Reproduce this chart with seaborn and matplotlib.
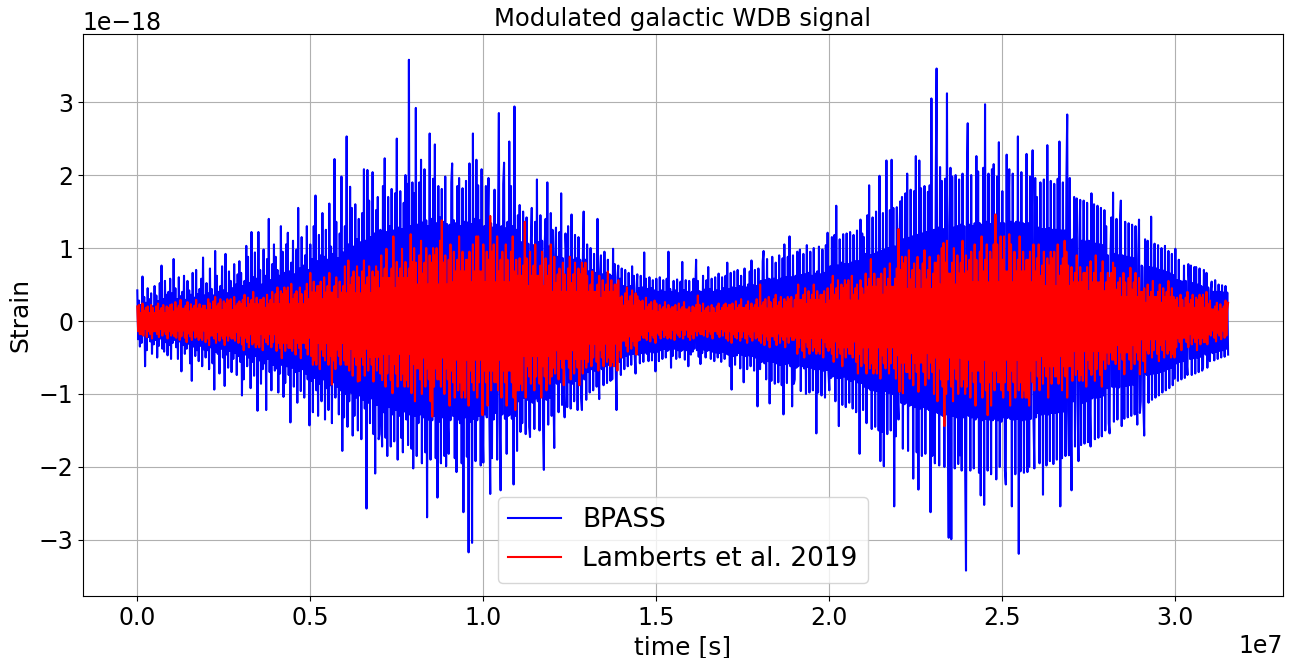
import numpy as np
import pandas as pd
import matplotlib
matplotlib.use("Agg")
import matplotlib.pyplot as plt
import seaborn as sns

bpass_strain = [
    0.42, -0.25, 0.28, -0.35, 0.22, -0.30, 0.61, -0.18, 0.33, -0.62, 0.25, -0.40, 0.45, -0.22, 0.30, -0.28, 0.38, -0.45, 0.20, -0.32, 0.48, -0.26, 0.35, -0.50, 0.27, -0.34, 0.52, -0.24, 0.76, -0.38, 0.30, -0.42, 0.55, -0.29, 0.36, -0.47, 0.40, -0.33, 0.58, -0.52,
    0.38, -0.30, 0.85, -0.26, 0.45, -0.36, 0.30, -0.52, 0.60, -0.28, 0.34, -0.69, 0.40, -0.33, 0.62, -0.45, 0.29, -0.38, 0.55, -0.31, 0.42, -0.58, 0.36, -0.82, 0.66, -0.35, 0.32, -0.48, 0.70, -0.40, 0.37, -0.55, 0.44, -0.34, 0.58, -0.62, 0.87, -0.39, 0.35, -0.50,
    0.52, -0.40, 0.38, -0.66, 0.72, -0.36, 0.44, -0.58, 0.35, -0.94, 0.96, -0.42, 0.62, -0.45, 0.40, -0.72, 0.48, -0.38, 0.75, -0.50, 0.42, -0.89, 0.92, -0.46, 0.38, -0.64, 0.68, -0.41, 0.55, -0.70, 0.45, -0.52, 0.78, -0.44, 0.50, -0.74, 0.64, -0.48, 0.82, -0.56,
    0.66, -1.02, 0.48, -0.80, 0.55, -0.46, 1.03, -0.62, 0.88, -0.50, 0.52, -0.92, 1.22, -0.56, 0.60, -0.75, 0.94, -0.48, 0.58, -1.23, 1.22, -0.54, 0.70, -0.86, 0.50, -0.66, 0.98, -0.58, 0.62, -1.22, 0.85, -0.52, 1.40, -0.70, 0.56, -0.95, 0.78, -0.60, 1.05, -0.68,
    0.88, -0.65, 0.70, -0.98, 0.62, -0.72, 1.30, -0.60, 0.95, -1.04, 0.66, -0.85, 1.05, -0.62, 1.21, -0.74, 0.68, -1.39, 0.80, -0.64, 1.10, -0.90, 0.64, -0.70, 0.98, -1.12, 1.55, -0.68, 0.72, -0.96, 1.15, -0.66, 0.76, -1.05, 0.90, -0.72, 1.30, -0.80, 0.70, -1.43,
    1.05, -0.82, 0.85, -1.25, 1.30, -0.78, 1.72, -0.95, 0.82, -1.30, 1.18, -0.86, 0.90, -1.10, 1.48, -0.80, 0.88, -1.35, 1.25, -0.92, 0.84, -1.22, 1.61, -0.88, 1.02, -1.40, 0.92, -0.84, 2.22, -1.05, 1.36, -0.90, 0.86, -1.28, 1.20, -0.95, 1.98, -1.78, 0.94, -1.32,
    1.30, -1.00, 2.53, -1.45, 1.05, -1.10, 1.84, -0.98, 1.55, -1.57, 1.02, -1.30, 1.60, -1.05, 1.12, -1.50, 1.40, -1.02, 1.08, -1.62, 1.48, -1.08, 2.08, -1.20, 1.10, -2.57, 2.07, -1.12, 1.65, -1.40, 1.15, -1.06, 2.04, -1.55, 1.20, -2.09, 1.52, -1.15, 1.70, -1.62,
    -1.55, 1.25, -1.20, -1.72, 1.85, -1.25, 2.23, -1.60, 1.22, -1.85, 1.70, -1.18, 1.30, -1.72, 1.81, -1.28, 1.24, -1.65, 1.75, -1.22, 2.50, -1.90, 1.28, -1.30, 1.78, -1.60, 1.26, -1.80, 1.62, -1.24, 2.00, -1.35, 1.88, -1.70, 3.58, -1.28, 1.30, -1.75, 1.90, -2.02,
    1.75, -1.30, 2.92, -1.85, 1.32, -1.40, 1.90, -1.28, 2.21, -1.95, 1.35, -1.32, 2.08, -1.80, 1.38, -2.69, 1.30, -1.35, 2.57, -1.90, 1.40, -1.36, 1.95, -1.30, 2.42, -1.88, 1.34, -2.42, 1.85, -1.38, 1.42, -1.95, 1.81, -1.32, 1.36, -1.85, 1.98, -1.99, 1.33, -1.40,
    -1.82, 1.32, -1.36, 1.90, 2.16, -1.30, 1.38, -1.88, 1.34, -2.07, 1.85, -1.35, 1.96, -1.40, 1.30, -1.95, 1.82, -2.62, 1.36, -1.32, 1.92, -1.86, 1.35, -3.17, 2.16, -1.38, 1.33, -3.04, 2.57, -1.34, 1.40, -1.92, 2.21, -1.36, 1.86, -1.30, 1.38, -1.98, 2.08, -1.35,
    -1.94, 1.30, -1.28, 1.85, -1.32, 1.26, 1.96, -1.30, -2.37, 1.34, -1.88, 1.28, -1.35, 1.80, -1.26, 1.32, -1.90, 1.30, 2.85, -1.36, -2.32, 1.30, -1.28, 1.88, 2.17, -1.34, 1.27, -1.82, 1.36, -1.30, 2.46, -1.28, 1.85, -1.34, 1.30, -2.24, 2.94, -1.30, 1.25, -1.78,
    1.45, -1.10, 1.59, -1.52, 1.08, -1.40, 1.50, -1.05, 1.12, -1.55, 1.42, -1.08, 1.06, -1.45, -1.59, 1.10, 1.55, -1.12, 1.04, -1.48, 1.36, -1.06, 1.94, -1.10, 1.08, -1.50, 1.45, -1.04, 1.10, -1.38, -2.04, 1.06, 1.40, -1.08, 1.90, -1.42, 1.02, -1.05, 1.48, -1.30,
    1.25, -0.88, -1.74, 0.90, 1.28, -0.86, 0.88, -1.25, 1.22, -0.84, 1.75, -1.15, 0.86, -0.90, -1.32, 1.20, 0.85, -1.18, 1.30, -0.84, 0.88, -1.20, 1.46, -0.86, 0.84, -1.10, 1.18, -0.82, 0.86, -1.22, 1.15, -0.80, 0.84, -1.05, -1.22, 0.82, 1.50, -0.80, 0.84, -1.08,
    1.05, -0.70, 0.68, -0.98, 1.00, -0.66, 0.70, -0.95, 0.92, -0.68, 0.66, -0.90, 1.40, -0.64, -1.07, 0.68, 0.90, -0.66, 0.64, -0.88, 0.95, -0.62, 0.66, -0.85, 0.84, -0.60, 0.64, -0.82, 0.62, -0.80, 0.99, -0.60, 0.78, -0.58, -1.22, 0.60, 0.76, -0.56, 0.58, -0.74,
    0.72, -0.50, 0.48, -0.66, 0.70, -0.48, 0.46, -0.62, 0.66, -0.46, 0.48, -0.60, 0.75, -0.45, 0.62, -0.47, -0.72, 0.44, 0.64, -0.46, 0.45, -0.58, 0.62, -0.44, 0.46, -0.56, 0.94, -0.43, 0.58, -0.45, 0.44, -0.55, 0.60, -0.42, 0.45, -0.54, 0.56, -0.43, 0.42, -0.69,
    0.58, -0.42, 0.40, -0.55, 0.60, -0.40, 0.42, -0.52, 0.56, -0.38, 0.40, -0.50, 0.58, -0.41, 0.95, -0.39, 0.44, -0.64, 0.40, -0.48, 0.55, -0.38, 0.42, -0.52, 0.57, -0.40, 0.38, -0.50, 0.54, -0.41, 0.81, -0.39, 0.42, -0.53, 0.56, -0.40, 0.40, -0.62, 0.55, -0.42,
    -0.46, 0.40, -0.42, 0.58, -0.38, 0.42, 0.84, -0.40, 0.55, -0.49, 0.41, -0.59, 0.40, -0.44, 0.62, -0.39, 0.43, -0.50, 0.56, -0.41, 0.74, -0.40, 0.44, -0.52, 0.58, -0.42, 0.40, -0.55, 0.60, -0.43, 0.42, -0.50, 0.65, -0.44, 0.41, -0.56, 0.60, -0.42, 0.45, -0.52,
    0.62, -0.45, 0.80, -0.46, 0.44, -0.62, 0.66, -0.94, 0.46, -0.48, 0.68, -0.60, 0.45, -0.47, 0.70, -0.44, 0.48, -0.65, 0.62, -0.46, 0.47, -0.84, 0.72, -0.48, 0.46, -0.66, 0.50, -0.47, 0.68, -0.62, 0.83, -0.48, 0.49, -0.68, 0.70, -0.50, 0.48, -1.17, 0.72, -0.64,
    -0.66, 0.55, -0.56, 0.82, 0.96, -0.58, 0.56, -0.80, 0.85, -0.55, 0.58, -1.13, 0.57, -0.82, 0.88, -0.56, 0.58, -0.86, 0.80, -0.58, 0.56, -0.84, 0.90, -0.60, 0.58, -0.88, 0.86, -1.28, 1.05, -0.59, 0.60, -0.85, 0.88, -0.58, 1.16, -0.62, 0.60, -1.17, 0.90, -0.86,
    -0.80, 0.62, -0.64, 0.95, -0.62, 0.64, 0.98, -0.96, 0.63, -0.62, 0.92, -0.65, 0.64, -1.00, 1.04, -0.63, 0.66, -0.98, 0.95, -0.64, 0.62, -0.95, 1.00, -0.66, 0.65, -1.54, 0.68, -0.98, 1.02, -0.66, 0.64, -1.02, 0.98, -0.68, 0.66, -1.05, 1.04, -0.67, 1.21, -0.70,
    -0.95, 0.75, -0.78, 1.15, -0.76, 0.74, 1.18, -1.10, 1.58, -0.78, 0.76, -1.44, 1.12, -0.78, 0.80, -1.15, 1.19, -0.76, 0.78, -1.18, 1.20, -0.80, 0.78, -1.12, 1.22, -0.82, 0.80, -1.20, 1.18, -0.80, 0.82, -1.25, 1.24, -0.84, 0.82, -1.82, 1.39, -0.85, 1.20, -1.22,
    1.15, -0.90, 0.92, -1.40, 1.45, -0.92, 1.86, -0.94, 0.90, -1.48, 1.42, -0.95, 0.92, -1.45, 1.50, -0.96, 0.94, -1.50, 1.99, -1.92, 0.96, -1.52, 1.48, -1.99, 0.98, -0.96, 2.20, -1.55, 1.00, -0.98, 1.52, -1.50, 2.21, -1.00, 1.55, -2.54, 1.02, -1.58, 1.56, -1.04,
    -1.35, 1.10, 1.64, -1.12, 1.70, -1.75, 1.12, -1.14, 1.75, -1.12, 2.02, -1.78, 1.14, -1.16, 1.80, -1.15, 1.16, -2.16, 1.78, -1.18, 2.26, -1.80, 1.18, -2.31, 2.20, -1.20, 1.82, -1.85, 1.20, -1.18, 1.85, -1.82, 1.22, -1.20, 1.77, -1.22, 1.86, -2.62, 3.05, -1.85,
    -1.60, 1.25, -1.95, 1.90, 3.46, -1.26, 1.28, -1.98, 2.11, -1.28, 1.92, -1.30, 1.26, -2.00, 1.95, -1.28, 3.12, -1.30, -2.97, 1.30, 2.10, -2.99, 1.98, -1.30, 1.28, -2.02, 2.00, -1.32, 1.30, -1.96, 1.94, -1.84, 1.32, -2.05, 2.02, -1.32, 1.30, -2.00, -3.42, 1.95,
    2.71, -1.30, 1.32, -2.05, 2.00, -1.32, 1.30, -2.02, 1.34, -1.35, 2.26, -1.32, 2.05, -2.08, 1.34, -2.39, 1.32, -1.36, 2.10, -2.52, 2.97, -1.34, 1.36, -2.05, 2.02, -1.35, 1.33, -2.10, 2.08, -1.36, 2.15, -1.34, 1.35, -2.17, 1.98, -1.36, 2.45, -2.00, 1.34, -1.38,
    1.78, -1.32, 1.34, -2.05, -2.24, 2.28, -1.33, 1.35, 2.08, -1.34, 1.36, -2.54, 2.02, -1.35, 1.34, -2.10, 1.36, -1.34, 2.53, -3.19, 1.35, -2.06, 2.04, -1.36, 1.34, -2.08, 1.33, -1.35, 2.29, -2.07, 1.34, -2.00, 1.98, -1.34, 1.32, 2.34, -1.33, -2.02, 1.96, -1.32,
    1.70, -1.26, 1.28, -1.95, 1.90, -1.28, 1.26, -2.38, 1.94, -1.27, 1.26, -1.98, 2.41, -1.28, 1.27, -1.92, 1.92, -1.26, 1.25, -1.96, 1.88, -1.26, 1.25, -1.90, 1.95, -1.25, 2.46, -2.54, 1.24, -1.88, 1.90, -1.24, 1.24, -1.85, 1.86, 2.83, -1.23, -1.84, 1.96, -1.22,
    -2.32, 1.12, -1.10, 1.70, -1.72, 1.12, 1.68, -1.11, -1.92, 1.10, 1.66, -1.70, 1.10, -1.12, 1.65, -1.68, 1.09, -1.10, 1.62, -1.66, 1.10, -1.08, -1.72, 1.75, -1.06, 1.08, 1.60, -1.62, 1.06, -1.05, 1.58, -1.60, 1.05, -1.04, 1.55, -1.58, 1.04, -1.02, 1.52, -1.50,
    1.30, -0.92, 0.90, -1.40, -1.54, 0.92, 1.42, -0.90, 1.76, -1.38, 0.92, -0.90, 1.40, -1.35, 0.90, -0.91, 1.38, 1.65, -1.44, 0.90, 0.88, -1.34, 1.36, -0.89, 0.88, -1.32, 1.34, -0.88, 0.87, -1.30, 1.32, -0.87, 0.86, -1.28, 1.30, -0.86, -1.42, 0.85, 1.39, -1.26,
    -1.10, 0.76, 0.74, -1.15, -1.57, 1.12, 0.75, -0.74, 1.10, -1.12, 0.74, -0.73, 1.43, -1.08, 0.73, -0.72, 1.06, -1.05, 0.72, -0.71, 1.04, -1.02, 0.70, -0.70, 1.00, -0.98, 0.69, -0.68, 1.03, -0.95, 0.67, -0.66, 0.96, -0.92, 0.65, -0.64, 0.92, -0.88, 0.63, -0.79,
    0.99, -0.58, 0.56, -0.82, 0.84, -0.56, 0.55, -0.80, 0.54, -0.55, 0.76, -0.78, 0.55, -0.54, -0.74, 0.78, 0.53, -0.52, 0.76, -0.74, 0.52, -0.51, 0.74, -0.72, 0.74, -0.50, 0.50, -0.70, 0.72, -0.49, 0.48, -0.68, -0.64, 0.70, 0.47, -0.46, 0.66, -0.64, 0.46, -0.45,
    -0.55, 0.42, 0.54, -0.44, 0.40, -0.54, 0.56, -0.42, 0.40, -0.52, 0.50, -0.41, 0.40, -0.50, 0.49, -0.40, 0.39, -0.49, 0.48, -0.38, 0.39, -0.46,
]

lamberts_strain = [
    .20, -.14, .22, -.18, .11, -.18, .24, -.20, .14, -.11, .18, -.22, .20, -.14, .11, -.18, .22, -.24, .18, -.14, .11, -.14, .20, -.18, .24, -.22, .14, -.11, .18, -.20, .22, -.14, .11, -.18, .20, -.24, .18, -.14, .22, -.20,
    .23, -.17, .13, -.21, .26, -.23, .17, -.13, .21, -.26, .29, -.21, .17, -.13, .17, -.23, .21, -.29, .26, -.17, .13, -.21, .23, -.26, .17, -.13, .21, -.23, .29, -.21, .17, -.26, .23, -.23, .17, -.26, .21, -.13, .21, -.29,
    .15, -.24, .30, -.33, .24, -.20, .15, -.20, .27, -.24, .33, -.30, .20, -.15, .24, -.27, .30, -.20, .15, -.24, .27, -.33, .24, -.20, .30, -.27, .27, -.20, .30, -.24, .15, -.24, .33, -.27, .20, -.15, .24, -.30, .27, -.20,
    .23, -.32, .29, -.40, .36, -.23, .18, -.29, .32, -.36, .23, -.18, .29, -.32, .40, -.29, .23, -.36, .32, -.32, .23, -.36, .29, -.18, .29, -.40, .32, -.23, .18, -.29, .36, -.32, .23, -.18, .29, -.36, .40, -.29, .23, -.18,
    .37, -.41, .46, -.30, .23, -.37, .41, -.51, .37, -.30, .46, -.41, .41, -.30, .46, -.37, .23, -.37, .51, -.41, .30, -.23, .37, -.46, .41, -.30, .23, -.37, .46, -.51, .37, -.30, .23, -.30, .41, -.37, .51, -.46, .30, -.23,
    .66, -.48, .39, -.60, .54, -.54, .39, -.60, .48, -.30, .48, -.66, .54, -.39, .30, -.48, .60, -.54, .39, -.30, .48, -.60, .66, -.48, .39, -.87, .39, -.54, .48, -.66, .60, -.39, .30, -.48, .54, -.60, .39, -.30, .48, -.54,
    .75, -.60, .38, -.60, .83, -.68, .49, -.38, .60, -.75, .68, -.49, .38, -.60, .75, -.83, .60, -.82, .38, -.49, .68, -.60, .83, -.75, .49, -.38, .60, -.68, .75, -.49, .38, -.60, .68, -.83, .60, -.49, .75, -.68, .68, -.49,
    .45, -.72, .90, -.81, .59, -.45, .72, -.90, .99, -.72, .59, -.45, .59, -.81, .72, -.99, 1.16, -.59, .45, -.72, .81, -.90, .59, -.45, .72, -.81, .99, -.72, .59, -.90, .81, -.81, .59, -.90, .72, -.45, 1.19, -.99, .81, -.59,
    1.00, -1.10, .80, -.65, .50, -.65, .90, -.80, 1.10, -1.00, .65, -.50, .80, -.90, 1.00, -.65, .50, -.80, .90, -1.10, .80, -1.31, 1.00, -.90, .90, -.65, 1.00, -.80, .50, -.80, 1.10, -.90, 1.38, -.50, .80, -1.00, .90, -.65, .50, -.80,
    .84, -1.16, 1.05, -.68, .53, -.84, .95, -1.05, .68, -.53, .84, -.95, 1.16, -.84, .68, -1.05, .95, -.95, .68, -1.05, .84, -.53, .84, -1.16, .95, -.68, .53, -.84, 1.05, -.95, .68, -.53, 1.16, -1.05, 1.16, -.84, .68, -.53, .68, -1.29,
    1.05, -.68, .53, -.84, .95, -1.16, .84, -.68, 1.44, -.95, .95, -.68, 1.05, -.84, .53, -.84, 1.16, -.95, .68, -.53, .84, -1.05, .95, -.68, .53, -.84, 1.05, -1.16, .84, -.68, .53, -.68, .95, -.84, 1.16, -1.05, .68, -1.22, .84, -.95,
    .62, -.95, .86, -.86, .62, -.95, .76, -.48, 1.36, -1.05, .86, -.62, .48, -.76, .95, -.86, .62, -.48, .76, -.95, 1.05, -.76, .62, -.48, .62, -.86, .76, -1.05, .95, -.62, .48, -.76, .86, -.95, .62, -.48, .76, -.86, 1.05, -.76,
    .40, -.64, .88, -.72, .52, -.40, .64, -.80, .72, -.52, .40, -.64, .80, -.88, .64, -.52, .40, -.52, .72, -.64, .88, -.80, .52, -.40, .64, -.72, .80, -.52, .40, -.64, .72, -.88, .64, -.52, .80, -.72, .72, -.52, .80, -.64,
    .62, -.56, .40, -.31, .50, -.62, .68, -.50, .40, -.31, .40, -.56, .50, -.68, .62, -.40, .31, -.50, .56, -.62, .40, -.31, .50, -.56, .68, -.50, .40, -.62, .56, -.56, .40, -.62, .50, -.31, .50, -.68, .56, -.40, .31, -.50,
    .34, -.27, .21, -.27, .38, -.34, .46, -.42, .27, -.21, .34, -.38, .42, -.27, .21, -.34, .38, -.46, .34, -.27, .28, -.26, .26, -.19, .28, -.23, .14, -.23, .32, -.26, .19, -.14, .23, -.28, .26, -.19, .14, -.23, .28, -.30,
    .24, -.16, .12, -.19, .22, -.24, .16, -.12, .19, -.22, .26, -.19, .16, -.24, .22, -.22, .16, -.24, .19, -.12, .19, -.26, .22, -.16, .12, -.19, .24, -.22, .16, -.12, .19, -.24, .26, -.19, .16, -.12, .16, -.22, .19, -.26,
    .11, -.18, .20, -.24, .18, -.14, .22, -.20, .35, -.14, .22, -.18, .11, -.18, .24, -.20, .14, -.11, .18, -.22, .20, -.14, .11, -.18, .22, -.24, .18, -.14, .11, -.14, .20, -.18, .24, -.22, .14, -.11, .18, -.20, .22, -.14,
    .24, -.24, .18, -.27, .22, -.14, .22, -.30, .24, -.18, .14, -.22, .27, -.24, .18, -.14, .22, -.27, .30, -.22, .18, -.14, .18, -.24, .22, -.30, .27, -.18, .14, -.22, .24, -.27, .18, -.14, .22, -.24, .30, -.22, .18, -.27,
    .50, -.30, .21, -.17, .26, -.33, .30, -.21, .17, -.26, .33, -.36, .26, -.21, .17, -.21, .30, -.26, .36, -.33, .21, -.17, .26, -.30, .33, -.21, .17, -.26, .30, -.36, .26, -.21, .33, -.30, .30, -.21, .33, -.26, .17, -.26,
    .29, -.23, .36, -.45, .50, -.36, .29, -.23, .29, -.41, .36, -.50, .45, -.29, .23, -.36, .41, -.45, .29, -.23, .36, -.41, .50, -.36, .29, -.45, .41, -.41, .29, -.45, .36, -.23, .36, -.50, .41, -.29, .23, -.36, .45, -.41,
    .28, -.36, .50, -.45, .62, -.56, .36, -.28, .45, -.50, .56, -.36, .28, -.45, .50, -.62, .45, -.36, .56, -.50, .50, -.36, .56, -.45, .28, -.45, .62, -.50, .36, -.28, .45, -.56, .50, -.72, .28, -.45, .56, -.62, .45, -.36,
    .36, -.58, .65, -.72, .47, -.36, .58, -.65, .85, -.58, .47, -.72, .65, -.65, .47, -.72, .58, -.36, .58, -.79, .65, -.47, .36, -.58, .72, -.65, .47, -.36, .58, -.72, .79, -.58, .47, -.36, .47, -.65, .58, -.79, .72, -.47,
    1.26, -.97, .70, -.57, .88, -.99, .79, -.57, .88, -.70, .44, -.70, .97, -.79, .57, -.44, .70, -.88, .79, -.57, .44, -.70, .88, -.97, .70, -.57, .44, -.57, .79, -.70, .97, -.88, .57, -.44, .70, -.79, .88, -.57, .44, -.70,
    .65, -1.00, .80, -.50, .80, -1.10, .90, -.65, .50, -.80, 1.00, -.90, 1.07, -1.44, .80, -1.00, 1.10, -.80, .65, -.50, .65, -.90, .80, -1.10, 1.00, -.65, .50, -.80, .90, -1.00, .65, -.50, .80, -.90, 1.10, -.80, .65, -1.00, .90, -.90,
    .68, -.53, .84, -1.05, .95, -.68, .53, -.84, 1.05, -1.16, .84, -.68, .53, -.68, .95, -.84, 1.16, -1.05, .68, -.53, .84, -.95, 1.05, -1.29, .53, -.84, .95, -1.16, .84, -.68, 1.05, -.95, 1.46, -.68, 1.05, -.84, .53, -.84, 1.16, -.95,
    .84, -1.05, 1.16, -.84, .68, -.53, .68, -.95, 1.19, -1.16, 1.05, -.68, .53, -.84, .95, -1.05, .68, -.53, .84, -.95, 1.16, -.84, .68, -1.05, .95, -.95, .68, -1.05, .84, -1.05, .84, -1.16, .95, -.68, .53, -.84, 1.05, -.95, .68, -.53,
    .86, -.76, 1.05, -.95, .62, -.48, .76, -.86, .95, -.62, .48, -.76, .86, -1.05, .76, -.62, .95, -.86, .86, -.62, .95, -.76, .48, -.76, 1.05, -.86, .62, -.48, .76, -.95, .86, -.62, 1.10, -.76, .95, -1.05, .76, -.62, .48, -.62,
    .74, -.82, .53, -.41, .66, -.74, .90, -.66, .53, -.82, .74, -.74, .53, -.82, .66, -.41, .66, -.90, .74, -.53, .41, -.66, .82, -.74, .53, -.41, .66, -.82, .90, -.66, .53, -.41, .53, -.74, .66, -.90, .82, -.53, .41, -.66,
    .53, -.43, .66, -.59, .59, -.43, .66, -.53, .80, -.53, .73, -.59, .43, -.33, .53, -.66, .59, -.43, .33, -.53, .66, -.73, .53, -.43, .33, -.43, .59, -.53, .73, -.66, .43, -.33, .53, -.59, .66, -.43, .33, -.53, .59, -.73,
    .40, -.25, .40, -.55, .45, -.70, .25, -.40, .50, -.45, .33, -.25, .40, -.50, .55, -.40, .33, -.25, .33, -.45, .40, -.55, .50, -.33, .25, -.40, .45, -.50, .33, -.25, .40, -.45, .55, -.40, .33, -.50, .45, -.45, .33, -.50,
    .29, -.36, .32, -.23, .18, -.29, .36, -.40, .29, -.23, .18, -.23, .32, -.29, .40, -.36, .23, -.18, .29, -.32, .36, -.23, .18, -.29, .32, -.40, .29, -.23, .36, -.32, .32, -.23, .36, -.29, .18, -.29, .40, -.32, .23, -.18,
    .28, -.20, .16, -.13, .16, -.23, .20, -.28, .25, -.16, .13, -.20, .23, -.25, .16, -.13, .20, -.23, .28, -.20, .16, .25,
]

series_labels = ["BPASS", "Lamberts et al. 2019"]
series_colors = ["blue", "red"]
year_seconds = 3.1536e7
strain_unit = 1e-18

time_bpass = np.linspace(0.0, year_seconds, len(bpass_strain))
time_lamb = np.linspace(0.0, year_seconds, len(lamberts_strain))

df = pd.concat([
    pd.DataFrame({"time": time_bpass, "strain": np.array(bpass_strain) * strain_unit, "model": series_labels[0]}),
    pd.DataFrame({"time": time_lamb, "strain": np.array(lamberts_strain) * strain_unit, "model": series_labels[1]}),
], ignore_index=True)

fig = plt.figure(figsize=(12.93, 6.58), dpi=100)
ax = fig.add_axes([0.064, 0.094, 0.928, 0.854])

for lab, col in zip(series_labels, series_colors):
    sub = df[df["model"] == lab]
    sns.lineplot(data=sub, x="time", y="strain", color=col, label=lab,
                 estimator=None, sort=False, linewidth=1.5, ax=ax)

ax.grid(True, color="#b0b0b0", linewidth=0.8)
ax.set_axisbelow(True)
ax.tick_params(labelsize=17)
ax.xaxis.get_offset_text().set_fontsize(17)
ax.yaxis.get_offset_text().set_fontsize(17)
ax.set_xlabel("time [s]", fontsize=18)
ax.set_ylabel("Strain", fontsize=18)
ax.set_title("Modulated galactic WDB signal", fontsize=17.5)
ax.set_xticks([0, 0.5e7, 1.0e7, 1.5e7, 2.0e7, 2.5e7, 3.0e7])
ax.set_yticks([-3e-18, -2e-18, -1e-18, 0, 1e-18, 2e-18, 3e-18])
ax.legend(loc="lower center", fontsize=19, framealpha=0.8)

fig.savefig("out.png", dpi=100)
